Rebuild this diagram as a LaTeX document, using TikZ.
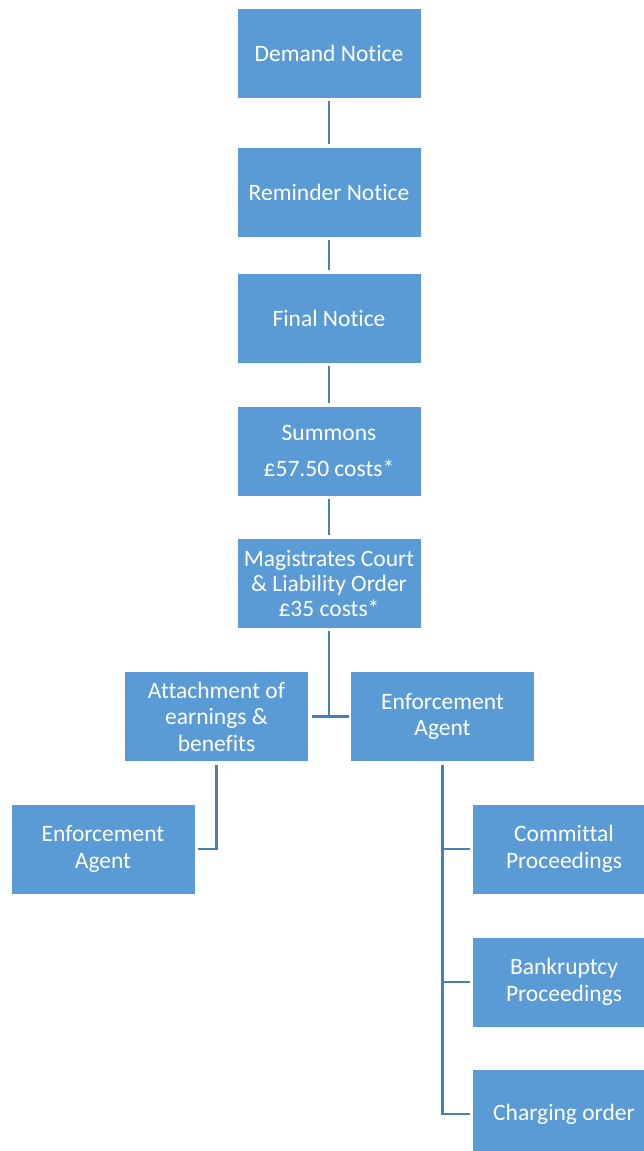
\documentclass[tikz,border=0pt]{standalone}
\usepackage{fontspec}
\setmainfont[RawFeature={-liga;-clig}]{Carlito}
\definecolor{boxblue}{RGB}{91,155,213}
\definecolor{lineblue}{RGB}{74,126,187}
\begin{document}
\begin{tikzpicture}[x=1pt,y=-1pt,
  box/.style={fill=boxblue,draw=white,line width=0.8pt,minimum width=184pt,minimum height=90pt,
    inner sep=0pt,outer sep=0pt,align=center,text=white,
    font=\fontsize{23.5}{26.5}\selectfont},
  conn/.style={draw=lineblue,line width=2.6pt},
  gap/.style={shorten <=3pt,shorten >=3pt}]
\useasboundingbox (0,0) rectangle (644,1151);
\clip (0,0) rectangle (644,1151);
\node[box] (dem) at (329,53) {Demand Notice};
\node[box] (rem) at (329,192) {Reminder Notice};
\node[box] (fin) at (329,318) {Final Notice};
\node[box] (sum) at (329,451) {Summons\\[10pt]£57.50 costs*};
\node[box,font=\fontsize{23.5}{25}\selectfont] (mag) at (329,583) {Magistrates Court\\\& Liability Order\\£35 costs*};
\node[box] (att) at (216.5,716.5) {Attachment of\\earnings \&\\benefits};
\node[box] (ear) at (442.5,716.5) {Enforcement\\Agent};
\node[box] (eal) at (103,849) {Enforcement\\Agent};
\node[box] (com) at (564,849) {Committal\\Proceedings};
\node[box] (ban) at (564,982) {Bankruptcy\\Proceedings};
\node[box] (cha) at (564,1114) {Charging order};
\draw[conn,gap] (dem) -- (rem);
\draw[conn,gap] (rem) -- (fin);
\draw[conn,gap] (fin) -- (sum);
\draw[conn,gap] (sum) -- (mag);
\coordinate (j) at (mag.south |- att.east);
\draw[conn,shorten <=3pt] (mag.south) -- (j);
\draw[conn,shorten <=3pt,shorten >=2pt] (att.east) -- (ear.west);
\draw[conn,shorten <=3pt,shorten >=3pt] (att.south) |- (eal.east);
\draw[conn,shorten <=3pt,shorten >=2pt] (ear.south) |- (com.west);
\draw[conn,shorten <=3pt,shorten >=2pt] (ear.south) |- (ban.west);
\draw[conn,shorten <=3pt,shorten >=2pt] (ear.south) |- (cha.west);
\end{tikzpicture}
\end{document}
